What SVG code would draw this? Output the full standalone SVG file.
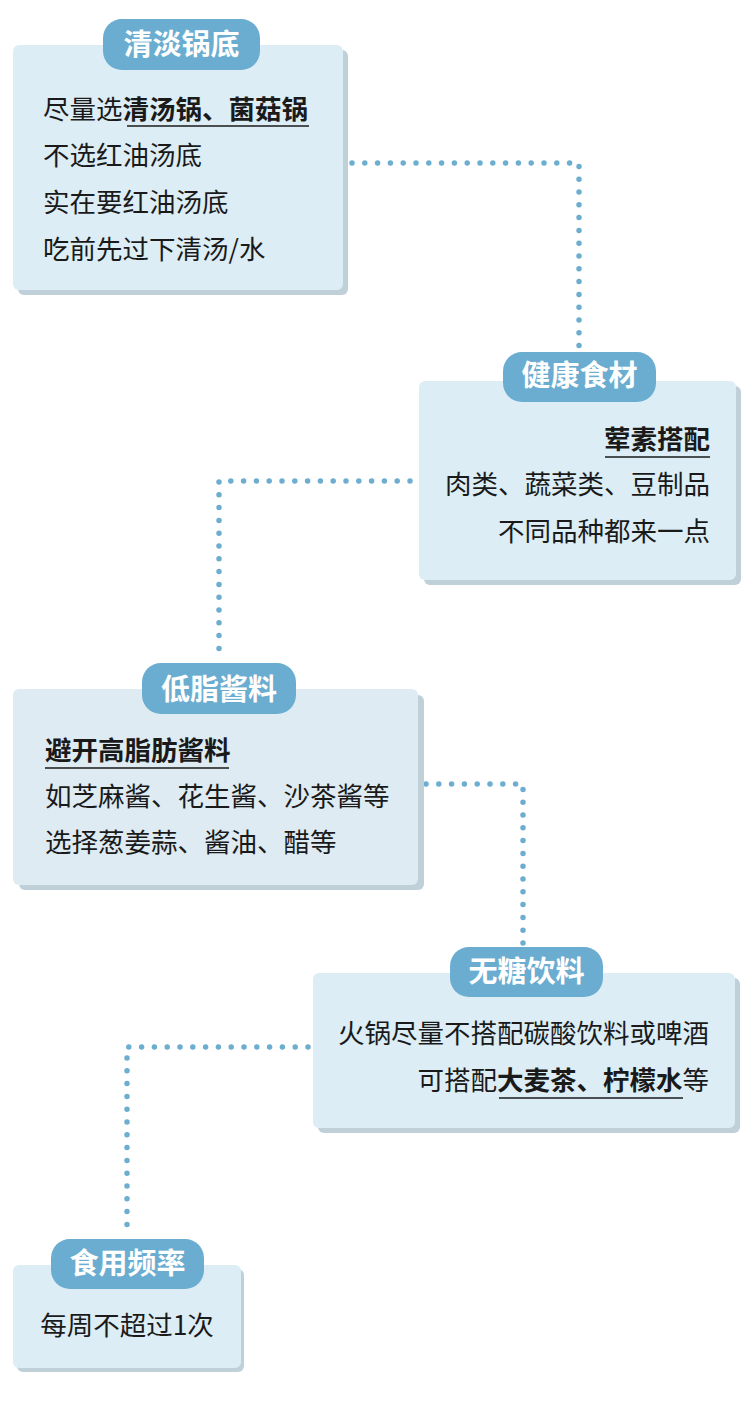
<svg xmlns="http://www.w3.org/2000/svg" width="750" height="1408" viewBox="0 0 750 1408">
<style>
.bg{fill:#ffffff}
.box{fill:#dcedf5}
.box3{fill:#deebf2}
.sh{fill:#bfd0d9}
.pill{fill:#6aadd0}
.pt{font-family:"Noto Sans CJK SC","Noto Sans",sans-serif;font-size:29px;font-weight:700;fill:#ffffff;text-anchor:middle}
.t{font-family:"Noto Sans CJK SC","Noto Sans",sans-serif;font-size:26.5px;font-weight:400;fill:#1a1a1a}
.b{font-weight:700}
.ul{stroke:#1a1a1a;stroke-width:1.6;fill:none}
.dot{fill:none;stroke:#6daed0;stroke-width:5.5;stroke-linecap:round;stroke-dasharray:0 12.8}
</style>
<rect class="bg" x="0" y="0" width="750" height="1408"/>
<g id="connectors">
<path class="dot" d="M352,163 H579 V350"/>
<path class="dot" d="M410,481 H219 V657"/>
<path class="dot" d="M426,784 H523 V945"/>
<path class="dot" d="M308,1047 H127 V1233"/>
</g>
<g id="node1">
<rect class="sh" x="18" y="50" width="330" height="245" rx="6"/>
<rect class="box" x="13" y="45" width="330" height="245" rx="6"/>
<rect class="pill" x="103" y="19" width="157" height="51" rx="19"/>
<text class="pt" x="181.5" y="55">清淡锅底</text>
<text class="t" x="43" y="119">尽量选<tspan class="b">清汤锅、菌菇锅</tspan></text>
<line class="ul" x1="127" y1="126" x2="309" y2="126"/>
<text class="t" x="43" y="165">不选红油汤底</text>
<text class="t" x="43" y="212">实在要红油汤底</text>
<text class="t" x="43" y="259">吃前先过下清汤/水</text>
</g>
<g id="node2">
<rect class="sh" x="424" y="386" width="317" height="199" rx="6"/>
<rect class="box" x="419" y="381" width="317" height="199" rx="6"/>
<rect class="pill" x="503" y="352" width="153" height="50" rx="19"/>
<text class="pt" x="579.5" y="386">健康食材</text>
<text class="t b" x="710" y="449" text-anchor="end">荤素搭配</text>
<line class="ul" x1="605" y1="457" x2="710" y2="457"/>
<text class="t" x="710" y="494" text-anchor="end">肉类、蔬菜类、豆制品</text>
<text class="t" x="710" y="541" text-anchor="end">不同品种都来一点</text>
</g>
<g id="node3">
<rect class="sh" x="19" y="695" width="405" height="195" rx="6"/>
<rect class="box3" x="13" y="689" width="405" height="196" rx="6"/>
<rect class="pill" x="142" y="663" width="154" height="51" rx="19"/>
<text class="pt" x="219" y="700">低脂酱料</text>
<text class="t b" x="45" y="760">避开高脂肪酱料</text>
<line class="ul" x1="45" y1="768" x2="229" y2="768"/>
<text class="t" x="45" y="806">如芝麻酱、花生酱、沙茶酱等</text>
<text class="t" x="45" y="852">选择葱姜蒜、酱油、醋等</text>
</g>
<g id="node4">
<rect class="sh" x="318" y="978" width="422" height="155" rx="6"/>
<rect class="box" x="313" y="973" width="422" height="155" rx="6"/>
<rect class="pill" x="450" y="947" width="153" height="50" rx="19"/>
<text class="pt" x="526.5" y="982">无糖饮料</text>
<text class="t" x="709" y="1043" text-anchor="end">火锅尽量不搭配碳酸饮料或啤酒</text>
<text class="t" x="709" y="1090" text-anchor="end">可搭配<tspan class="b">大麦茶、柠檬水</tspan>等</text>
<line class="ul" x1="499" y1="1098" x2="683" y2="1098"/>
</g>
<g id="node5">
<rect class="sh" x="17" y="1269" width="227" height="103" rx="6"/>
<rect class="box" x="13" y="1265" width="228" height="103" rx="6"/>
<rect class="pill" x="51" y="1239" width="153" height="50" rx="19"/>
<text class="pt" x="127.5" y="1274">食用频率</text>
<text class="t" x="127" y="1335" text-anchor="middle">每周不超过1次</text>
</g>
</svg>
